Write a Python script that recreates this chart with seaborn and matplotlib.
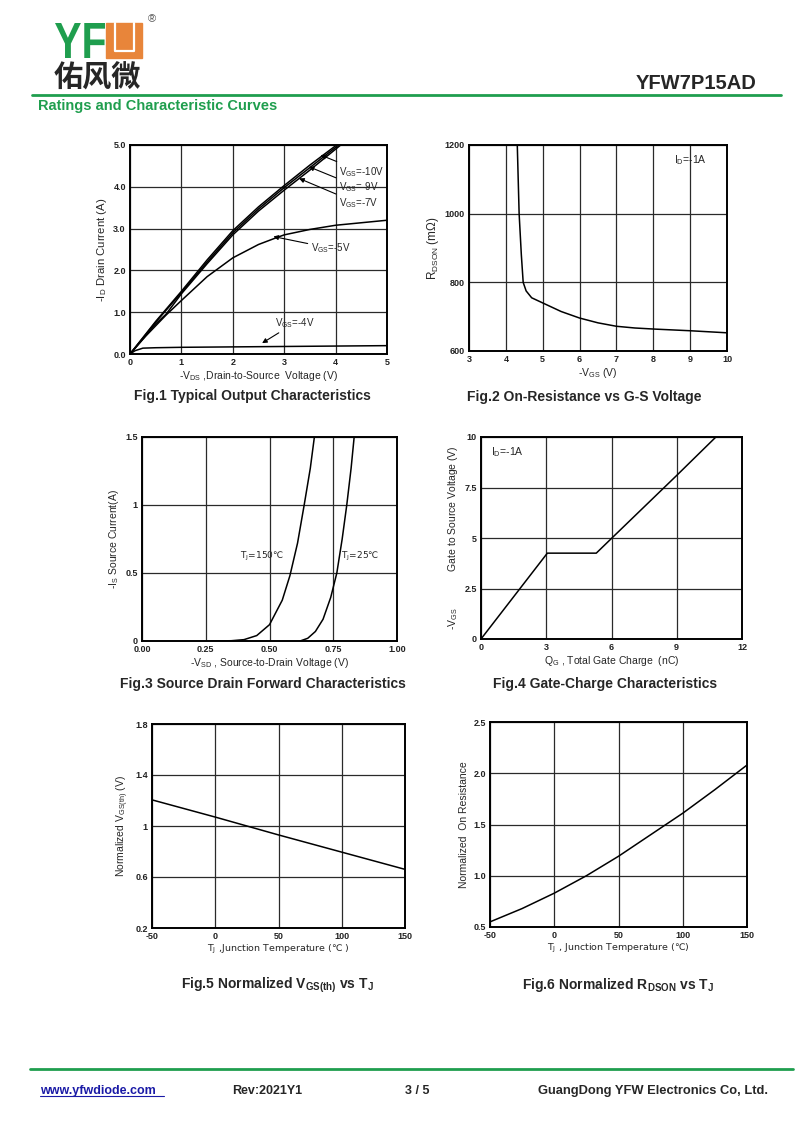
import numpy as np
import pandas as pd
import seaborn as sns
import matplotlib.pyplot as plt
from matplotlib.patches import Rectangle, PathPatch
from matplotlib.textpath import TextPath
from matplotlib.font_manager import FontProperties
from matplotlib.transforms import Affine2D

# ---- data ----
# Fig.1 output characteristics, -ID (A) vs -VDS (V)
vds_10 = [0, 0.5, 1.0, 1.5, 2.0, 2.5, 3.0, 3.5, 4.02]
id_10 = [0, 0.78, 1.50, 2.25, 2.95, 3.52, 4.03, 4.52, 5.0]
vds_9 = [0, 0.5, 1.0, 1.5, 2.0, 2.5, 3.0, 3.5, 4.06]
id_9 = [0, 0.76, 1.47, 2.20, 2.90, 3.47, 3.98, 4.46, 5.0]
vds_7 = [0, 0.5, 0.7, 1.0, 1.5, 2.0, 2.5, 3.0, 3.5, 4.1]
id_7 = [0, 0.72, 0.95, 1.44, 2.16, 2.85, 3.42, 3.92, 4.40, 5.0]
vds_5 = [0, 0.3, 0.7, 1.0, 1.5, 2.0, 2.5, 2.8, 3.0, 3.5, 4.0, 4.5, 5.0]
id_5 = [0, 0.42, 0.93, 1.28, 1.85, 2.30, 2.62, 2.76, 2.85, 2.98, 3.08, 3.14, 3.20]
vds_4 = [0, 0.1, 0.25, 0.5, 1.0, 2.0, 3.0, 4.0, 5.0]
id_4 = [0, 0.08, 0.14, 0.15, 0.16, 0.17, 0.18, 0.19, 0.20]

# Fig.2 RDS(on) (mOhm) vs -VGS (V)
vgs_r = [4.31, 4.36, 4.42, 4.47, 4.55, 4.7, 5.0, 5.5, 6.0, 6.5, 7.0, 7.5, 8.0, 9.0, 10.0]
rdson = [1200, 1000, 880, 800, 775, 755, 740, 715, 696, 682, 672, 667, 664, 659, 653]

# Fig.3 source-drain forward, -IS (A) vs -VSD (V)
vsd_150 = [0.27, 0.35, 0.40, 0.45, 0.50, 0.55, 0.58, 0.61, 0.636, 0.66, 0.676]
is_150 = [0, 0.002, 0.01, 0.04, 0.12, 0.30, 0.48, 0.72, 1.0, 1.27, 1.5]
vsd_25 = [0.62, 0.65, 0.68, 0.71, 0.74, 0.764, 0.785, 0.803, 0.82, 0.832]
is_25 = [0, 0.02, 0.07, 0.16, 0.32, 0.5, 0.75, 1.0, 1.27, 1.5]

# Fig.4 gate charge, -VGS (V) vs QG (nC)
qg = [0, 3.05, 5.3, 6.0, 9.0, 10.8]
vgs_q = [0, 4.25, 4.25, 4.98, 8.1, 10.0]

# Fig.5 normalized VGS(th) vs TJ
tj = [-50, 0, 50, 100, 150]
vth_norm = [1.205, 1.07, 0.93, 0.795, 0.66]

# Fig.6 normalized RDS(on) vs TJ
tj6 = [-50, -25, 0, 25, 50, 75, 100, 125, 150]
ron_norm = [0.55, 0.68, 0.83, 1.0, 1.19, 1.40, 1.61, 1.84, 2.08]

# tick values / labels
f1_xt = [0, 1, 2, 3, 4, 5]
f1_yt = [0, 1, 2, 3, 4, 5]
f1_ytl = ['0.0', '1.0', '2.0', '3.0', '4.0', '5.0']
f2_xt = [3, 4, 5, 6, 7, 8, 9, 10]
f2_yt = [600, 800, 1000, 1200]
f3_xt = [0, 0.25, 0.5, 0.75, 1.0]
f3_xtl = ['0.00', '0.25', '0.50', '0.75', '1.00']
f3_yt = [0, 0.5, 1.0, 1.5]
f3_ytl = ['0', '0.5', '1', '1.5']
f4_xt = [0, 3, 6, 9, 12]
f4_yt = [0, 2.5, 5, 7.5, 10]
f4_ytl = ['0', '2.5', '5', '7.5', '10']
f5_xt = [-50, 0, 50, 100, 150]
f5_yt = [0.2, 0.6, 1.0, 1.4, 1.8]
f5_ytl = ['0.2', '0.6', '1', '1.4', '1.8']
f6_yt = [0.5, 1.0, 1.5, 2.0, 2.5]
f6_ytl = ['0.5', '1.0', '1.5', '2.0', '2.5']

sns.set_theme(style='white')
plt.rcParams['font.family'] = ['Liberation Sans', 'DejaVu Sans', 'Noto Sans CJK SC']
plt.rcParams['mathtext.default'] = 'regular'

W, H = 800, 1130
fig = plt.figure(figsize=(8, 11.3), dpi=100)
GREEN = '#1f9e4e'
DV = ['DejaVu Sans']  # has the ℃ glyph


def px(x, y):
    return x / W, 1 - y / H


def make_ax(l, t, r, b):
    ax = fig.add_axes([l / W, 1 - b / H, (r - l) / W, (b - t) / H])
    for s in ax.spines.values():
        s.set_color('black')
        s.set_linewidth(1.4)
    ax.tick_params(length=0, pad=3, labelsize=6.5, colors='#222222')
    ax.grid(True, color='#2a2a2a', lw=0.9)
    return ax


def finish(ax, xt, yt, xtl=None, ytl=None, xlabel='', ylabel='', yfs=7.5):
    ax.set_xticks(xt)
    ax.set_yticks(yt)
    ax.set_xticklabels(xtl if xtl else [str(v) for v in xt], fontweight='bold', fontsize=6.5)
    ax.set_yticklabels(ytl if ytl else [str(v) for v in yt], fontweight='bold', fontsize=6.5)
    ax.set_xlim(xt[0], xt[-1])
    ax.set_ylim(yt[0], yt[-1])
    ax.set_xlabel(xlabel, fontsize=7.5, labelpad=1)
    ax.set_ylabel(ylabel, fontsize=yfs, labelpad=3)


def title(cx, y, s):
    fig.text(*px(cx, y), s, fontsize=10, fontweight='bold', ha='center', va='baseline')


# ---- header ----
tp = TextPath((0, 0), 'YF', size=1, prop=FontProperties(family='Liberation Sans', weight='bold'))
ext = tp.get_extents()
sx = (50 / W) / ext.width
sy = (35 / H) / ext.height
tr = Affine2D().translate(-ext.x0, -ext.y0).scale(sx, sy).translate(55 / W, 1 - 58 / H)
fig.patches.append(PathPatch(tr.transform_path(tp), transform=fig.transFigure,
                             color=GREEN, lw=0))
fig.patches.append(Rectangle(px(106, 58), 36 / W, 35 / H, transform=fig.transFigure,
                             color='#e8853a', zorder=3))
fig.lines.append(plt.Line2D([115 / W, 115 / W, 134 / W, 134 / W],
                            [1 - 23 / H, 1 - 51 / H, 1 - 51 / H, 1 - 23 / H],
                            transform=fig.transFigure, color='white', lw=1.6, zorder=4))
fig.text(*px(148, 22), '®', fontsize=8, color='#555555', va='baseline')
fig.text(*px(54, 87), '佑风微', fontsize=21, fontweight='bold', va='baseline',
         family=['Noto Sans CJK SC'])
fig.text(*px(757, 89), 'YFW7P15AD', fontsize=14.5, fontweight='bold', ha='right', va='baseline')
fig.lines.append(plt.Line2D([32 / W, 781 / W], [1 - 95 / H] * 2, transform=fig.transFigure,
                            color=GREEN, lw=2))
fig.text(*px(38, 110), 'Ratings and Characteristic Curves', fontsize=10.5, fontweight='bold',
         color=GREEN, va='baseline')

# ---- Fig.1 ----
ax1 = make_ax(130, 145, 387, 354)
for xs, ys in [(vds_10, id_10), (vds_9, id_9), (vds_7, id_7), (vds_5, id_5), (vds_4, id_4)]:
    sns.lineplot(x=xs, y=ys, ax=ax1, color='black', lw=1.1)
finish(ax1, f1_xt, f1_yt, ytl=f1_ytl, yfs=8.2,
       xlabel='-V$_{DS}$ ,Drain-to-Source  Voltage (V)', ylabel='-I$_D$ Drain Current (A)')
arrow = dict(arrowstyle='-|>', color='black', lw=0.8, mutation_scale=7, shrinkA=0, shrinkB=0)
for txt, xy, xyt in [('V$_{GS}$=-10V', (3.71, 4.76), (4.07, 4.36)),
                     ('V$_{GS}$=-9V', (3.48, 4.48), (4.07, 3.99)),
                     ('V$_{GS}$=-7V', (3.29, 4.20), (4.07, 3.60)),
                     ('V$_{GS}$=-5V', (2.79, 2.81), (3.52, 2.53)),
                     ('V$_{GS}$=-4V', (2.57, 0.26), (2.83, 0.75))]:
    ax1.annotate(txt, xy=xy, xytext=xyt, fontsize=7, ha='left', va='center', arrowprops=arrow)
title(252, 400, 'Fig.1 Typical Output Characteristics')

# ---- Fig.2 ----
ax2 = make_ax(469, 145, 727, 351)
sns.lineplot(x=vgs_r, y=rdson, ax=ax2, color='black', lw=1.1, sort=False)
finish(ax2, f2_xt, f2_yt, xlabel='-V$_{GS}$ (V)', ylabel='R$_{DSON}$ (mΩ)', yfs=8.5)
ax2.text(8.55, 1155, 'I$_D$=-1A', fontsize=7.5, va='center')
title(584, 401, 'Fig.2 On-Resistance vs G-S Voltage')

# ---- Fig.3 ----
ax3 = make_ax(142, 437, 397, 641)
sns.lineplot(x=vsd_150, y=is_150, ax=ax3, color='black', lw=1.1)
sns.lineplot(x=vsd_25, y=is_25, ax=ax3, color='black', lw=1.1)
finish(ax3, f3_xt, f3_yt, xtl=f3_xtl, ytl=f3_ytl,
       xlabel='-V$_{SD}$ , Source-to-Drain Voltage (V)', ylabel='-I$_S$ Source Current(A)')
ax3.text(0.385, 0.62, 'T$_J$=150℃', fontsize=6.5, va='center', family=DV)
ax3.text(0.78, 0.62, 'T$_J$=25℃', fontsize=6.5, va='center', family=DV)
title(263, 688, 'Fig.3 Source Drain Forward Characteristics')

# ---- Fig.4 ----
ax4 = make_ax(481, 437, 742, 639)
sns.lineplot(x=qg, y=vgs_q, ax=ax4, color='black', lw=1.1, sort=False)
finish(ax4, f4_xt, f4_yt, ytl=f4_ytl, xlabel='Q$_G$ , Total Gate Charge  (nC)',
       ylabel='-V$_{GS}$' + ' ' * 13 + 'Gate to Source Voltage (V)')
ax4.text(0.47, 9.26, 'I$_D$=-1A', fontsize=7.5, va='center')
title(605, 688, 'Fig.4 Gate-Charge Characteristics')

# ---- Fig.5 ----
ax5 = make_ax(152, 724, 405, 928)
sns.lineplot(x=tj, y=vth_norm, ax=ax5, color='black', lw=1.1)
finish(ax5, f5_xt, f5_yt, ytl=f5_ytl, ylabel='Normalized V$_{GS(th)}$ (V)')
ax5.set_xlabel('T$_J$ ,Junction Temperature (℃ )', fontsize=6.8, labelpad=1, family=DV)
title(277, 989, 'Fig.5 Normalized V$_{GS(th)}$ vs T$_J$')

# ---- Fig.6 ----
ax6 = make_ax(490, 722, 747, 927)
sns.lineplot(x=tj6, y=ron_norm, ax=ax6, color='black', lw=1.1)
finish(ax6, f5_xt, f6_yt, ytl=f6_ytl, ylabel='Normalized  On Resistance')
ax6.set_xlabel('T$_J$ , Junction Temperature (℃)', fontsize=6.8, labelpad=1, family=DV)
title(618, 989, 'Fig.6 Normalized R$_{DSON}$ vs T$_J$')

# ---- footer ----
fig.lines.append(plt.Line2D([30 / W, 793 / W], [1 - 1069 / H] * 2, transform=fig.transFigure,
                            color=GREEN, lw=2))
fig.text(*px(40, 1094), 'www.yfwdiode.com', fontsize=9, fontweight='bold', color='#1a1aa6',
         va='baseline')
fig.lines.append(plt.Line2D([40 / W, 164 / W], [1 - 1096 / H] * 2, transform=fig.transFigure,
                            color='#1a1aa6', lw=0.8))
fig.text(*px(232, 1094), 'Rev:2021Y1', fontsize=9, fontweight='bold', va='baseline')
fig.text(*px(405, 1094), '3 / 5', fontsize=9, fontweight='bold', va='baseline')
fig.text(*px(768, 1094), 'GuangDong YFW Electronics Co, Ltd.', fontsize=9.3, fontweight='bold',
         ha='right', va='baseline')

fig.savefig('out.png', dpi=100, facecolor='white')
